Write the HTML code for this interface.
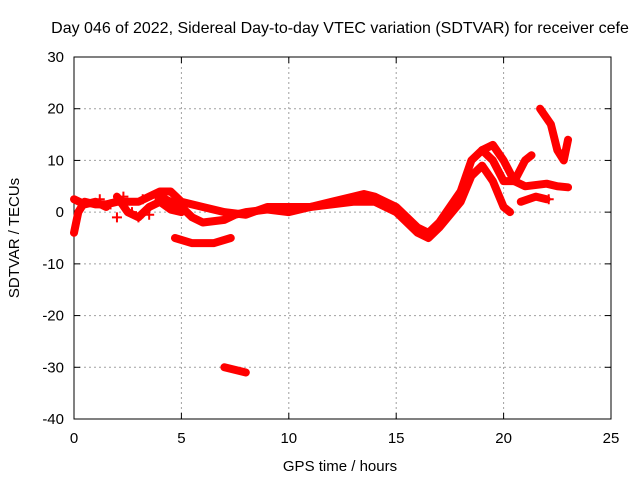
<!DOCTYPE html>
<html><head><meta charset="utf-8">
<style>
html,body{margin:0;padding:0;background:#fff;}
svg text{font-family:"Liberation Sans",sans-serif;font-size:15px;fill:#000;}
</style></head>
<body>
<svg id="chart" width="640" height="480" viewBox="0 0 640 480" xmlns="http://www.w3.org/2000/svg">
<rect width="640" height="480" fill="#fff"/>
<g id="grid"></g>
<g id="axes"></g>
<g id="series"></g>
<text x="340" y="33" text-anchor="middle" style="font-size:16px">Day 046 of 2022, Sidereal Day-to-day VTEC variation (SDTVAR) for receiver cefe</text>
<text x="340" y="471" text-anchor="middle">GPS time / hours</text>
<text transform="translate(19,238) rotate(-90)" text-anchor="middle">SDTVAR / TECUs</text>
</svg>
<script>
const xTicks=[0,5,10,15,20,25];
const yTicks=[30,20,10,0,-10,-20,-30,-40];
const traceA=[[0,-4],[0.2,0],[0.5,2],[1,1.5],[1.5,1.5],[2,2],[3,2],[3.5,3],[4,4],[4.5,4],[5,2],[6,1],[7,0],[8,-0.5],[9,1],[10,1],[11,1],[12,2],[13,3],[13.5,3.5],[14,3],[15,1],[16,-3],[16.5,-4],[17,-2],[18,4],[18.5,10],[19,12],[19.5,10],[20,6],[20.5,6],[21,10],[21.3,11]];
const traceB=[[4,3],[5,1],[5.5,-1],[6,-2],[7,-1.5],[7.5,-0.5],[8,0],[9,0.5],[10,0],[11,1],[12,1.5],[13,2],[14,2],[15,0],[16,-4],[16.5,-5],[17,-3],[18,2],[18.5,7],[19,9],[19.5,6],[20,1],[20.3,0]];
const traceC=[[4.7,-5],[5.5,-6],[6.5,-6],[7.3,-5]];
const traceD=[[7,-30],[7.5,-30.5],[8,-31]];
const traceE=[[19,12],[19.5,13],[20,10],[20.5,6],[21,5],[22,5.5],[22.5,5],[23,4.8]];
const traceF=[[20.8,2],[21.5,3],[22,2.5]];
const traceG=[[21.7,20],[22.2,17],[22.5,12],[22.8,10],[23,14]];
const traceH=[[0,2.5],[0.5,1.5],[1,2],[1.5,1]];
const traceI=[[2,3],[2.5,0],[3,-1],[3.5,1],[4,2],[4.5,0.5],[5,0]];
const crosses=[[1.7,1.5],[2,-1],[2.3,3],[2.7,0],[3,-1],[3.2,2.5],[3.5,-0.5],[3.8,3],[1.2,2.5],[22.1,2.5]];
const X0=74,X1=611,Y0=419,Y1=57,xMin=0,xMax=25,yMin=-40,yMax=30;
const sx=v=>X0+(v-xMin)/(xMax-xMin)*(X1-X0);
const sy=v=>Y0-(v-yMin)/(yMax-yMin)*(Y0-Y1);
const NS='http://www.w3.org/2000/svg';
function mk(tag,attrs,parent){const e=document.createElementNS(NS,tag);for(const k in attrs)e.setAttribute(k,attrs[k]);parent.appendChild(e);return e;}
const grid=document.getElementById('grid'),axes=document.getElementById('axes'),ser=document.getElementById('series');
xTicks.forEach(t=>{
  if(t>xMin&&t<xMax){const g=mk('line',{x1:sx(t),x2:sx(t),y1:Y1,y2:Y0,stroke:'#a0a0a0','stroke-dasharray':'2,3'},grid);
  
  }
  mk('line',{x1:sx(t),x2:sx(t),y1:Y0,y2:Y0-6,stroke:'#000'},axes);
  mk('line',{x1:sx(t),x2:sx(t),y1:Y1,y2:Y1+6,stroke:'#000'},axes);
  const tx=mk('text',{x:sx(t),y:Y0+24,'text-anchor':'middle'},axes);tx.textContent=t;
  
  
});
yTicks.forEach(t=>{
  if(t>yMin&&t<yMax){const g=mk('line',{x1:X0,x2:X1,y1:sy(t),y2:sy(t),stroke:'#a0a0a0','stroke-dasharray':'2,3'},grid);
  
  }
  mk('line',{x1:X0,x2:X0+6,y1:sy(t),y2:sy(t),stroke:'#000'},axes);
  mk('line',{x1:X1,x2:X1-6,y1:sy(t),y2:sy(t),stroke:'#000'},axes);
  const tx=mk('text',{x:X0-10,y:sy(t)+5,'text-anchor':'end'},axes);tx.textContent=t;
  
  
});
const fr=mk('rect',{x:X0,y:Y1,width:X1-X0,height:Y0-Y1,fill:'none',stroke:'#000'},axes);


[traceA,traceB,traceC,traceD,traceE,traceF,traceG,traceH,traceI].forEach((tr,i)=>{
  const p=mk('polyline',{points:tr.map(d=>sx(d[0])+','+sy(d[1])).join(' '),fill:'none',stroke:'#f00','stroke-width':8,'stroke-linejoin':'round','stroke-linecap':'round'},ser);
  
  
});
crosses.forEach(d=>{
  const x=sx(d[0]),y=sy(d[1]);
  const p=mk('path',{d:`M${x-5},${y}H${x+5}M${x},${y-5}V${y+5}`,stroke:'#f00','stroke-width':2},ser);
  
  
});
</script>
</body></html>
